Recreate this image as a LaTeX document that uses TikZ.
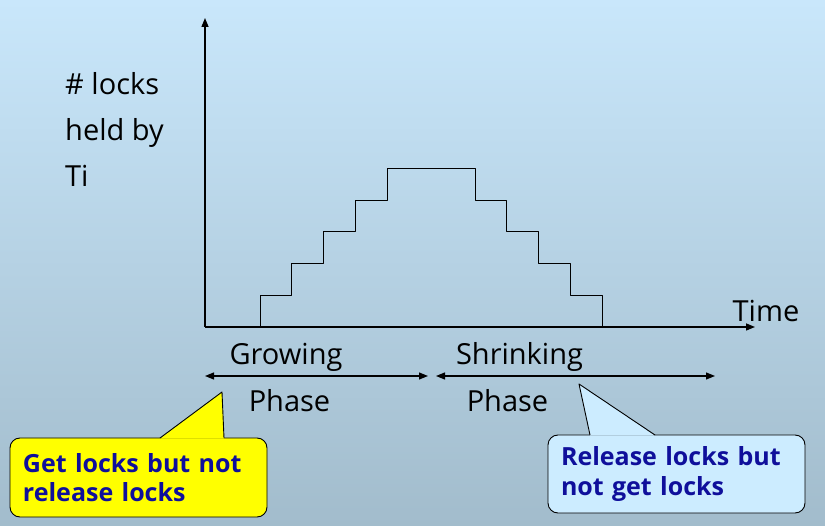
\documentclass[tikz,border=0pt]{standalone}
\usepackage{fontspec}
\setmainfont{Open Sans}
\usetikzlibrary{arrows.meta}
\definecolor{bgtop}{RGB}{201,231,251}
\definecolor{bgbot}{RGB}{162,188,204}
\definecolor{calloutyellow}{RGB}{255,255,0}
\definecolor{calloutblue}{RGB}{204,236,255}
\definecolor{callouttext}{RGB}{15,15,155}
\tikzset{
	label text/.style={inner sep=0pt, font=\fontsize{29}{46}\selectfont},
	callout box/.style={draw, rounded corners=10pt, line width=0.9pt, minimum width=257pt, inner xsep=13pt, text width=231pt, align=left, text=callouttext, font=\bfseries\fontsize{25}{29.5}\selectfont},
}
\begin{document}
\begin{tikzpicture}[x=1pt, y=-1pt, line join=round, >={Triangle[length=9pt,width=7pt]}]
	\shade[top color=bgtop, bottom color=bgbot] (0,0) rectangle (825,526);
	\useasboundingbox (0,0) rectangle (825,526);
	\def\k{31.75}
	\path 
	(205,327) coordinate (O) 
	(205,18) coordinate (Y)
	(755,327) coordinate (X)
	(260,327) coordinate (S)
	(205,376) coordinate (G1)
	(428,376) coordinate (G2)
	(436,376) coordinate (R1)
	(715,376) coordinate (R2)
	(222,392) coordinate (P)
	(579,384) coordinate (Q)
	; 
	\draw[line width=1.4pt, ->] (O)--(Y);
	\draw[line width=1.4pt, ->] (O)--(X);
	\draw[line width=0.9pt] (S) -- ++(0,-\k) -- ++(\k,0) -- ++(0,-\k) -- ++(\k,0) -- ++(0,-\k) -- ++(\k,0) -- ++(0,-\k) -- ++(\k,0) -- ++(0,-\k) -- ++(88,0) -- ++(0,\k) -- ++(\k,0) -- ++(0,\k) -- ++(\k,0) -- ++(0,\k) -- ++(\k,0) -- ++(0,\k) -- ++(\k,0) -- ++(0,\k);
	\draw[line width=1.2pt, <->] (G1)--(G2);
	\draw[line width=1.2pt, <->] (R1)--(R2);
	\node[label text, anchor=north west, align=left] (ylabel) at (65,72) {\#~locks\\held by\\Ti};
	\node[label text, anchor=base] (time) at (766,322) {Time};
	\node[label text, anchor=base] (grow) at (286,365) {Growing};
	\node[label text, anchor=base] (shrink) at (519.5,365) {Shrinking};
	\node[label text, anchor=base] (gphase) at (289.5,412) {Phase};
	\node[label text, anchor=base] (sphase) at (507.5,412) {Phase};
	\node[callout box, fill=calloutyellow, minimum height=79pt] (getbox) at (138.5,477.5) {Get locks but not\\release locks};
	\node[callout box, fill=calloutblue, minimum height=78pt] (relbox) at (676.5,474) {Release locks but\\not get locks};
	\fill[calloutyellow] (160,438.6) -- (P) -- (224,438.6) -- cycle;
	\draw[line width=0.9pt] (160,438) -- (P) -- (224,438);
	\fill[calloutblue] (590,435.6) -- (Q) -- (655,435.6) -- cycle;
	\draw[line width=0.9pt] (590,435) -- (Q) -- (655,435);
\end{tikzpicture}
\end{document}
